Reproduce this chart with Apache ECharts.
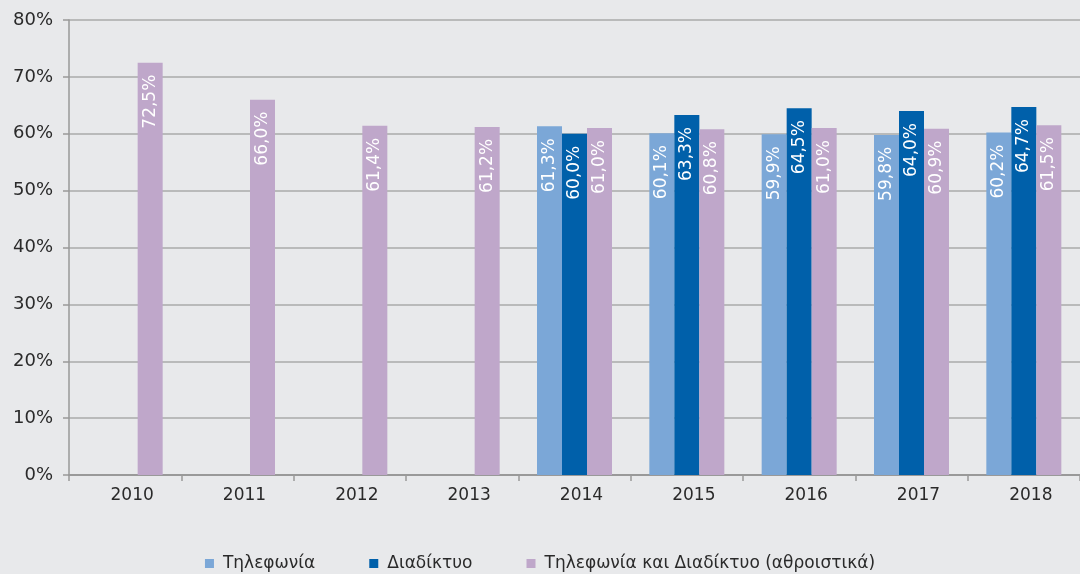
<!DOCTYPE html>
<html>
<head>
<meta charset="utf-8">
<script src="https://cdn.jsdelivr.net/npm/echarts@6/dist/echarts.min.js"></script>
<style>
  html, body { margin: 0; padding: 0; background: #e8e9eb; }
  #chart { width: 1080px; height: 574px; }
</style>
</head>
<body>
<div id="chart"></div>
<script>
const years = ["2010", "2011", "2012", "2013", "2014", "2015", "2016", "2017", "2018"];
const telephony = [null, null, null, null, 61.3, 60.1, 59.9, 59.8, 60.2];
const internet = [null, null, null, null, 60.0, 63.3, 64.5, 64.0, 64.7];
const combined = [72.5, 66.0, 61.4, 61.2, 61.0, 60.8, 61.0, 60.9, 61.5];

const font = "DejaVu Sans";

function fmt(p) {
  return p.value.toFixed(1).replace(".", ",") + "%";
}

function barSeries(name, data, color) {
  return {
    name: name,
    type: "bar",
    data: data,
    barWidth: 25,
    barGap: "0%",
    itemStyle: { color: color },
    label: {
      show: true,
      position: "insideTop",
      rotate: 90,
      align: "right",
      verticalAlign: "middle",
      distance: 12,
      color: "#ffffff",
      fontFamily: font,
      fontSize: 17,
      formatter: fmt,
    },
  };
}

const chart = echarts.init(document.getElementById("chart"));
chart.setOption({
  backgroundColor: "#e8e9eb",
  animation: false,
  grid: { left: 69, top: 20, width: 1017, bottom: 99, containLabel: false },
  legend: {
    bottom: -3,
    left: "center",
    icon: "rect",
    itemWidth: 9,
    itemHeight: 9,
    itemGap: 54,
    textStyle: { color: "#2a2a2a", fontFamily: font, fontSize: 17, padding: [0, 0, 0, 4] },
    data: ["Τηλεφωνία", "Διαδίκτυο", "Τηλεφωνία και Διαδίκτυο (αθροιστικά)"],
  },
  xAxis: {
    type: "category",
    data: years,
    axisLine: { show: true, lineStyle: { color: "#999", width: 2 } },
    axisTick: { show: true, length: 6, lineStyle: { color: "#999", width: 1.5 } },
    axisLabel: { color: "#2a2a2a", fontFamily: font, fontSize: 17, margin: 12, padding: [0, 0, 0, 14] },
  },
  yAxis: {
    type: "value",
    min: 0,
    max: 80,
    interval: 10,
    axisLine: { show: true, lineStyle: { color: "#999", width: 1.5 } },
    axisTick: { show: true, length: 6, lineStyle: { color: "#999", width: 1.5 } },
    axisLabel: { color: "#2a2a2a", fontFamily: font, fontSize: 18, margin: 16, formatter: "{value}%" },
    splitLine: { lineStyle: { color: "#aaa", width: 1.5 } },
  },
  series: [
    barSeries("Τηλεφωνία", telephony, "#7ba7d7"),
    barSeries("Διαδίκτυο", internet, "#0060aa"),
    barSeries("Τηλεφωνία και Διαδίκτυο (αθροιστικά)", combined, "#bfa7ca"),
  ],
});
</script>
</body>
</html>
